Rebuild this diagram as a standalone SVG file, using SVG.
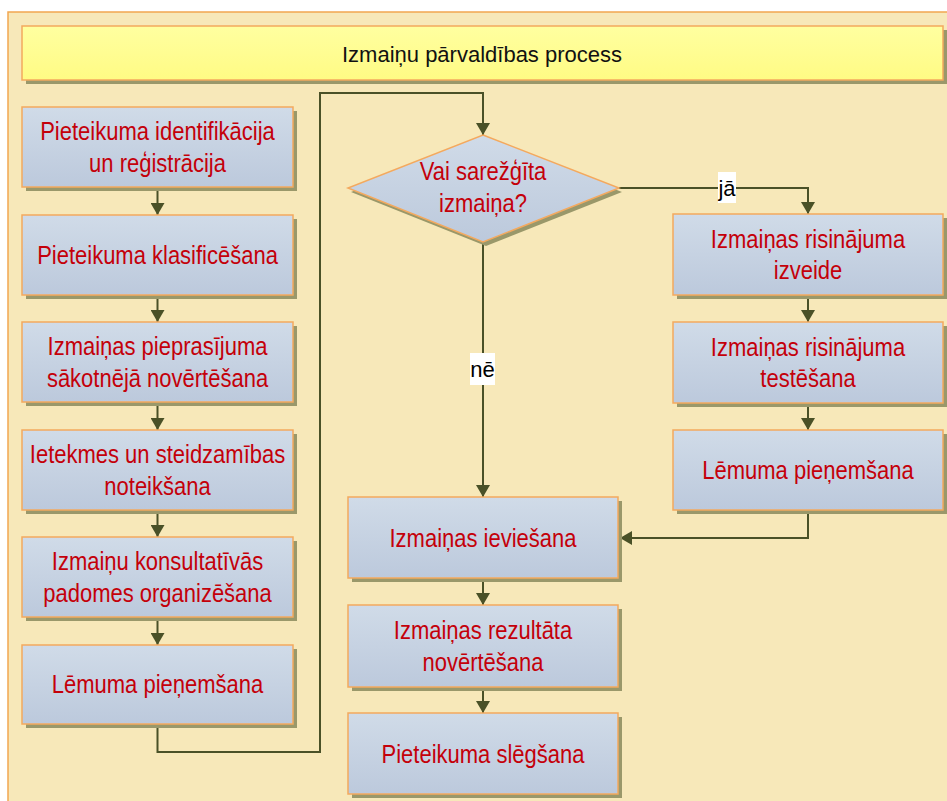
<svg xmlns="http://www.w3.org/2000/svg" width="947" height="801" viewBox="0 0 947 801">
  <defs>
    <linearGradient id="boxFill" x1="0" y1="0" x2="0" y2="1">
      <stop offset="0" stop-color="#D0DBE8"/>
      <stop offset="1" stop-color="#BCC9DC"/>
    </linearGradient>
    <linearGradient id="titleFill" x1="0" y1="0" x2="0" y2="1">
      <stop offset="0" stop-color="#FFFFA0"/>
      <stop offset="1" stop-color="#FFFB84"/>
    </linearGradient>
    <marker id="ah" markerUnits="userSpaceOnUse" markerWidth="14" markerHeight="14" refX="12" refY="7" orient="auto">
      <path d="M0,0 L12,7 L0,14 z" fill="#4A5127"/>
    </marker>
    <style>
      .bg { fill: #F7E8B9; stroke: #F2A650; stroke-width: 1.5; }
      .sh { fill: #9A986A; }
      .box { fill: url(#boxFill); stroke: #F4A95E; stroke-width: 1.5; }
      .title { fill: url(#titleFill); stroke: #F4A95E; stroke-width: 1.5; }
      .lbl { font-family: "Liberation Sans", Arial, sans-serif; font-size: 25px; fill: #C4000A; text-anchor: middle; }
      .ttl { font-family: "Liberation Sans", Arial, sans-serif; font-size: 22px; fill: #111111; text-anchor: middle; }
      .edge { fill: none; stroke: #4A5127; stroke-width: 2; }
      .arr { marker-end: url(#ah); }
      .tag { fill: #FFFFFF; }
      .tagtxt { font-family: "Liberation Sans", Arial, sans-serif; font-size: 22px; fill: #000000; text-anchor: middle; }
    </style>
  </defs>

  <!-- page background -->
  <rect class="bg" x="8" y="12" width="950" height="800"/>

  <!-- title bar -->
  <g id="title">
    <rect class="sh" x="26" y="30" width="921" height="54"/>
    <rect class="title" x="22" y="26" width="921" height="54"/>
    <text class="ttl" x="482" y="62">Izmaiņu pārvaldības process</text>
  </g>

  <!-- connectors -->
  <g id="connectors">
    <path class="edge arr" d="M157.5,187 V215"/>
    <path class="edge arr" d="M157.5,295 V322"/>
    <path class="edge arr" d="M157.5,402 V430"/>
    <path class="edge arr" d="M157.5,510 V537"/>
    <path class="edge arr" d="M157.5,617 V645"/>
    <path class="edge arr" d="M157.5,725 V752 H320 V93 H483 V135"/>
    <path class="edge arr" d="M619,188 H808 V214"/>
    <path class="edge arr" d="M483,242 V497"/>
    <path class="edge arr" d="M808,295 V322"/>
    <path class="edge arr" d="M808,403 V430"/>
    <path class="edge arr" d="M808,510 V538 H620"/>
    <path class="edge arr" d="M483,578 V605"/>
    <path class="edge arr" d="M483,687 V713"/>
    <rect class="tag" x="718" y="172" width="18" height="31"/>
    <text class="tagtxt" x="727" y="196">jā</text>
    <rect class="tag" x="470" y="353" width="25" height="32"/>
    <text class="tagtxt" x="482.5" y="377">nē</text>
  </g>

  <!-- left column -->
  <g id="n1">
    <rect class="sh" x="26" y="111" width="271" height="80"/>
    <rect class="box" x="22" y="107" width="271" height="80"/>
    <text class="lbl" transform="translate(157.5,147) scale(0.88,1)"><tspan x="0" y="-7">Pieteikuma identifikācija</tspan><tspan x="0" y="25">un reģistrācija</tspan></text>
  </g>
  <g id="n2">
    <rect class="sh" x="26" y="219" width="271" height="80"/>
    <rect class="box" x="22" y="215" width="271" height="80"/>
    <text class="lbl" transform="translate(157.5,255) scale(0.88,1)"><tspan x="0" y="9">Pieteikuma klasificēšana</tspan></text>
  </g>
  <g id="n3">
    <rect class="sh" x="26" y="326" width="271" height="80"/>
    <rect class="box" x="22" y="322" width="271" height="80"/>
    <text class="lbl" transform="translate(157.5,362) scale(0.88,1)"><tspan x="0" y="-7">Izmaiņas pieprasījuma</tspan><tspan x="0" y="25">sākotnējā novērtēšana</tspan></text>
  </g>
  <g id="n4">
    <rect class="sh" x="26" y="434" width="271" height="80"/>
    <rect class="box" x="22" y="430" width="271" height="80"/>
    <text class="lbl" transform="translate(157.5,470) scale(0.88,1)"><tspan x="0" y="-7">Ietekmes un steidzamības</tspan><tspan x="0" y="25">noteikšana</tspan></text>
  </g>
  <g id="n5">
    <rect class="sh" x="26" y="541" width="271" height="80"/>
    <rect class="box" x="22" y="537" width="271" height="80"/>
    <text class="lbl" transform="translate(157.5,577) scale(0.88,1)"><tspan x="0" y="-7">Izmaiņu konsultatīvās</tspan><tspan x="0" y="25">padomes organizēšana</tspan></text>
  </g>
  <g id="n6">
    <rect class="sh" x="26" y="649" width="271" height="79"/>
    <rect class="box" x="22" y="645" width="271" height="79"/>
    <text class="lbl" transform="translate(157.5,684) scale(0.88,1)"><tspan x="0" y="9">Lēmuma pieņemšana</tspan></text>
  </g>

  <!-- decision -->
  <g id="decision">
    <polygon class="sh" points="486,139 622,192 486,246 351,192"/>
    <polygon class="box" points="483,135 619,188 483,242 348,188"/>
    <text class="lbl" transform="translate(483,188) scale(0.88,1)"><tspan x="0" y="-8">Vai sarežģīta</tspan><tspan x="0" y="24">izmaiņa?</tspan></text>
  </g>

  <!-- middle column -->
  <g id="m1">
    <rect class="sh" x="352" y="501" width="270" height="81"/>
    <rect class="box" x="348" y="497" width="270" height="81"/>
    <text class="lbl" transform="translate(483,537.5) scale(0.88,1)"><tspan x="0" y="9">Izmaiņas ieviešana</tspan></text>
  </g>
  <g id="m2">
    <rect class="sh" x="352" y="609" width="270" height="82"/>
    <rect class="box" x="348" y="605" width="270" height="82"/>
    <text class="lbl" transform="translate(483,646) scale(0.88,1)"><tspan x="0" y="-7">Izmaiņas rezultāta</tspan><tspan x="0" y="25">novērtēšana</tspan></text>
  </g>
  <g id="m3">
    <rect class="sh" x="352" y="717" width="270" height="81"/>
    <rect class="box" x="348" y="713" width="270" height="81"/>
    <text class="lbl" transform="translate(483,753.5) scale(0.88,1)"><tspan x="0" y="9">Pieteikuma slēgšana</tspan></text>
  </g>

  <!-- right column -->
  <g id="r1">
    <rect class="sh" x="677" y="218" width="270" height="81"/>
    <rect class="box" x="673" y="214" width="270" height="81"/>
    <text class="lbl" transform="translate(808,254.5) scale(0.88,1)"><tspan x="0" y="-7">Izmaiņas risinājuma</tspan><tspan x="0" y="25">izveide</tspan></text>
  </g>
  <g id="r2">
    <rect class="sh" x="677" y="326" width="270" height="81"/>
    <rect class="box" x="673" y="322" width="270" height="81"/>
    <text class="lbl" transform="translate(808,362.5) scale(0.88,1)"><tspan x="0" y="-7">Izmaiņas risinājuma</tspan><tspan x="0" y="25">testēšana</tspan></text>
  </g>
  <g id="r3">
    <rect class="sh" x="677" y="434" width="270" height="80"/>
    <rect class="box" x="673" y="430" width="270" height="80"/>
    <text class="lbl" transform="translate(808,470) scale(0.88,1)"><tspan x="0" y="9">Lēmuma pieņemšana</tspan></text>
  </g>
</svg>
